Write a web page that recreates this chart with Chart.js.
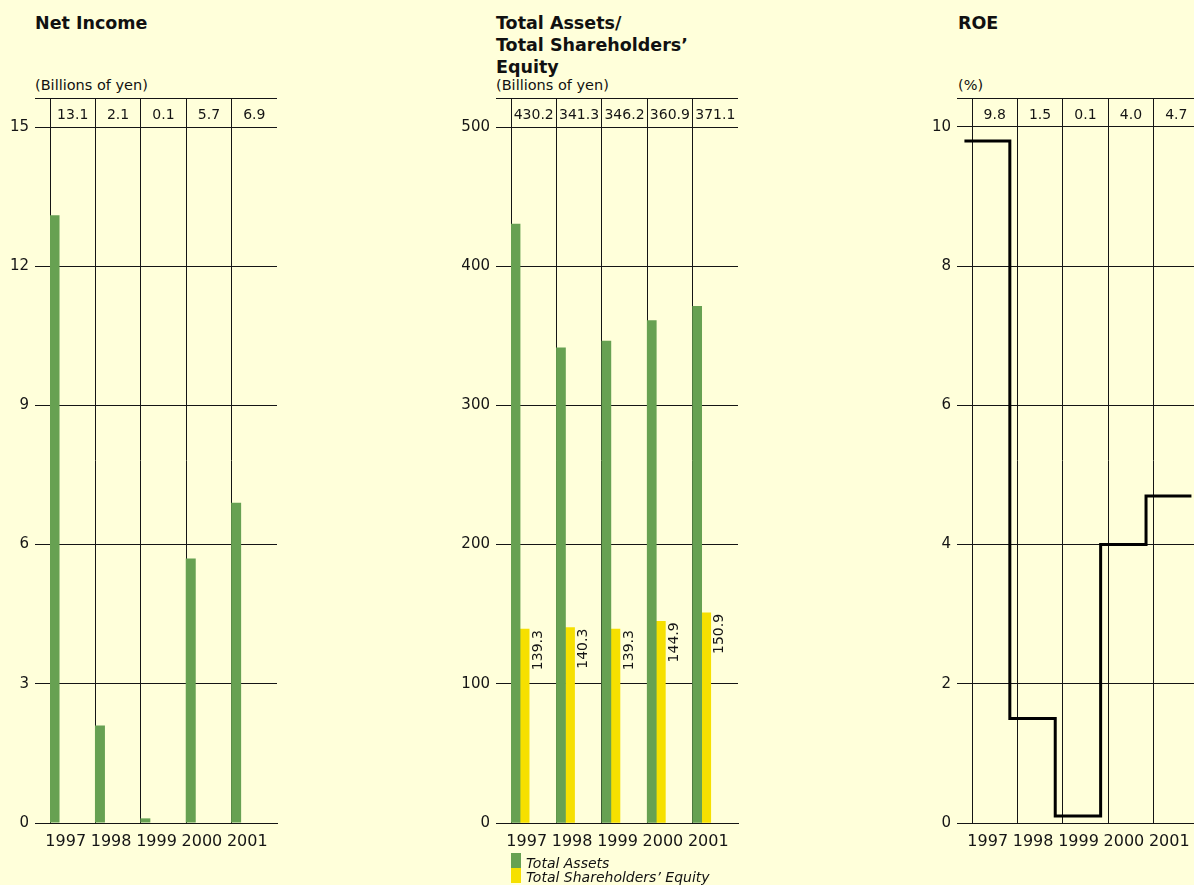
<!DOCTYPE html>
<html>
<head>
<meta charset="utf-8">
<script src="https://cdn.jsdelivr.net/npm/chart.js@4.4.1/dist/chart.umd.min.js"></script>
<style>
  html, body { margin:0; padding:0; width:1194px; height:885px; overflow:hidden; background:#FFFFDA; }
  .title { position:absolute; top:12px; font-family:'DejaVu Sans', sans-serif; font-weight:bold; font-size:17.5px; line-height:22px; color:#111; white-space:nowrap; }
  .unit { position:absolute; top:75.5px; font-family:'DejaVu Sans', sans-serif; font-size:14.5px; line-height:18px; color:#111; white-space:nowrap; }
  .wrap { position:absolute; top:0; height:885px; }
  .lgbox { position:absolute; width:10px; height:15px; }
  .lgtext { position:absolute; font-family:'DejaVu Sans', sans-serif; font-style:oblique; font-size:14px; line-height:15px; color:#111; white-space:nowrap; }
</style>
</head>
<body>
<div class="title" style="left:35px;">Net Income</div>
<div class="unit" style="left:35px;">(Billions of yen)</div>

<div class="title" style="left:496px;">Total Assets/<br>Total Shareholders’<br>Equity</div>
<div class="unit" style="left:496px;">(Billions of yen)</div>

<div class="title" style="left:958px;">ROE</div>
<div class="unit" style="left:958px;">(%)</div>

<div class="wrap" style="left:0px;width:290px;"><canvas id="c1" width="290" height="885"></canvas></div>
<div class="wrap" style="left:440px;width:310px;"><canvas id="c2" width="310" height="885"></canvas></div>
<div class="wrap" style="left:900px;width:320px;"><canvas id="c3" width="320" height="885"></canvas></div>

<div id="lg1" class="lgbox" style="left:511px;top:853px;"></div>
<div class="lgtext" style="left:526px;top:855.5px;">Total Assets</div>
<div id="lg2" class="lgbox" style="left:511px;top:868px;"></div>
<div class="lgtext" style="left:526px;top:870px;">Total Shareholders’ Equity</div>

<script>
// ---------- data ----------
const years = ['1997', '1998', '1999', '2000', '2001'];

const netIncome = [13.1, 2.1, 0.1, 5.7, 6.9];
const netIncomeTicks = [0, 3, 6, 9, 12, 15];

const totalAssets = [430.2, 341.3, 346.2, 360.9, 371.1];
const shareholdersEquity = [139.3, 140.3, 139.3, 144.9, 150.9];
const assetTicks = [0, 100, 200, 300, 400, 500];

const roe = [9.8, 1.5, 0.1, 4.0, 4.7];
const roeTicks = [0, 2, 4, 6, 8, 10];

// ---------- style ----------
const GREEN = '#67A152';
const YELLOW = '#F6E000';
const LINE = '#151515';
const TEXT = '#151515';
const FONT = "'DejaVu Sans', sans-serif";

document.getElementById('lg1').style.background = GREEN;
document.getElementById('lg2').style.background = YELLOW;

Chart.defaults.font.family = FONT;
Chart.defaults.color = TEXT;
Chart.defaults.devicePixelRatio = 1;

function spacer() { return { data: years.map(() => null), backgroundColor: 'rgba(0,0,0,0)' }; }

function scalesFor(ticks, yWidth) {
  const top = ticks[ticks.length - 1];
  const max = top * 25 / 24;
  return {
    x: {
      type: 'category', labels: years, offset: true, z: 1,
      grid: { offset: true, drawTicks: false, lineWidth: 1,
              color: c => c.type === 'tick' ? LINE : 'rgba(0,0,0,0)' },
      border: { display: true, color: LINE, width: 1 },
      ticks: { font: { size: 16 }, padding: 9, labelOffset: -7, color: TEXT, maxRotation: 0, autoSkip: false },
      afterFit: s => { s.height = 40; }
    },
    y: {
      type: 'linear', min: 0, max: max, z: 1,
      afterBuildTicks: s => { s.ticks = ticks.concat([max]).map(v => ({ value: v })); },
      grid: { color: LINE, lineWidth: 1, tickLength: 15, drawTicks: true },
      border: { display: true, color: LINE, width: 1 },
      ticks: { font: { size: 15 }, padding: 6, color: TEXT, autoSkip: false,
               callback: v => v > top ? '' : String(v) },
      afterFit: s => { s.width = yWidth; }
    }
  };
}

const valueRowPlugin = {
  id: 'valueRow',
  afterDraw(chart, args, opts) {
    if (!opts || !opts.values) return;
    const ctx = chart.ctx, x = chart.scales.x, y = chart.scales.y;
    const cy = (y.getPixelForValue(opts.top) + y.getPixelForValue(y.max)) / 2 + 2.5;
    ctx.save();
    ctx.font = '14px ' + FONT;
    ctx.fillStyle = TEXT;
    ctx.textAlign = 'center';
    ctx.textBaseline = 'middle';
    opts.values.forEach((v, i) => ctx.fillText(v.toFixed(1), x.getPixelForValue(i), cy));
    ctx.restore();
  }
};

const barLabelPlugin = {
  id: 'barLabels',
  afterDraw(chart, args, opts) {
    if (!opts || opts.datasetIndex == null) return;
    const ctx = chart.ctx;
    const meta = chart.getDatasetMeta(opts.datasetIndex);
    const data = chart.data.datasets[opts.datasetIndex].data;
    ctx.save();
    ctx.font = '14px ' + FONT;
    ctx.fillStyle = TEXT;
    ctx.textAlign = 'right';
    ctx.textBaseline = 'top';
    meta.data.forEach((el, i) => {
      ctx.save();
      ctx.translate(el.x + el.width / 2 + 2, el.y + 1);
      ctx.rotate(-Math.PI / 2);
      ctx.fillText(data[i].toFixed(1), 0, 0);
      ctx.restore();
    });
    ctx.restore();
  }
};

const common = {
  responsive: false,
  animation: false,
  events: [],
  plugins: { legend: { display: false }, tooltip: { enabled: false } }
};

// ---------- Net Income ----------
new Chart(document.getElementById('c1'), {
  type: 'bar',
  data: {
    labels: years,
    datasets: [
      { label: 'Net Income', data: netIncome, backgroundColor: GREEN, borderWidth: 0 },
      spacer(), spacer(), spacer(), spacer()
    ]
  },
  options: Object.assign({}, common, {
    layout: { padding: { top: 98, left: 0, right: 13, bottom: 22 } },
    datasets: { bar: { categoryPercentage: 1, barPercentage: 1.1 } },
    scales: scalesFor(netIncomeTicks, 50),
    plugins: Object.assign({}, common.plugins, { valueRow: { values: netIncome, top: 15 } })
  }),
  plugins: [valueRowPlugin]
});

// ---------- Total Assets / Equity ----------
new Chart(document.getElementById('c2'), {
  type: 'bar',
  data: {
    labels: years,
    datasets: [
      { label: 'Total Assets', data: totalAssets, backgroundColor: GREEN, borderWidth: 0 },
      { label: 'Total Shareholders’ Equity', data: shareholdersEquity, backgroundColor: YELLOW, borderWidth: 0 },
      spacer(), spacer(), spacer()
    ]
  },
  options: Object.assign({}, common, {
    layout: { padding: { top: 98, left: 0, right: 12, bottom: 22 } },
    datasets: { bar: { categoryPercentage: 1, barPercentage: 1 } },
    scales: scalesFor(assetTicks, 71),
    plugins: Object.assign({}, common.plugins, {
      valueRow: { values: totalAssets, top: 500 },
      barLabels: { datasetIndex: 1 }
    })
  }),
  plugins: [valueRowPlugin, barLabelPlugin]
});

// ---------- ROE ----------
const roeScales = scalesFor(roeTicks, 72);
roeScales.xs = { type: 'linear', display: false, min: 1 / 6, max: years.length + 1 / 6 };
new Chart(document.getElementById('c3'), {
  type: 'line',
  data: {
    labels: years,
    datasets: [{
      label: 'ROE',
      data: roe.map((v, i) => ({ x: i, y: v })).concat([{ x: roe.length, y: roe[roe.length - 1] }]),
      xAxisID: 'xs',
      stepped: 'before',
      borderColor: '#000',
      borderWidth: 3,
      borderJoinStyle: 'miter',
      pointRadius: 0,
      fill: false,
      clip: false
    }]
  },
  options: Object.assign({}, common, {
    layout: { padding: { top: 98, left: 0, right: 21, bottom: 22 } },
    scales: roeScales,
    plugins: Object.assign({}, common.plugins, { valueRow: { values: roe, top: 10 } })
  }),
  plugins: [valueRowPlugin]
});
</script>
</body>
</html>
